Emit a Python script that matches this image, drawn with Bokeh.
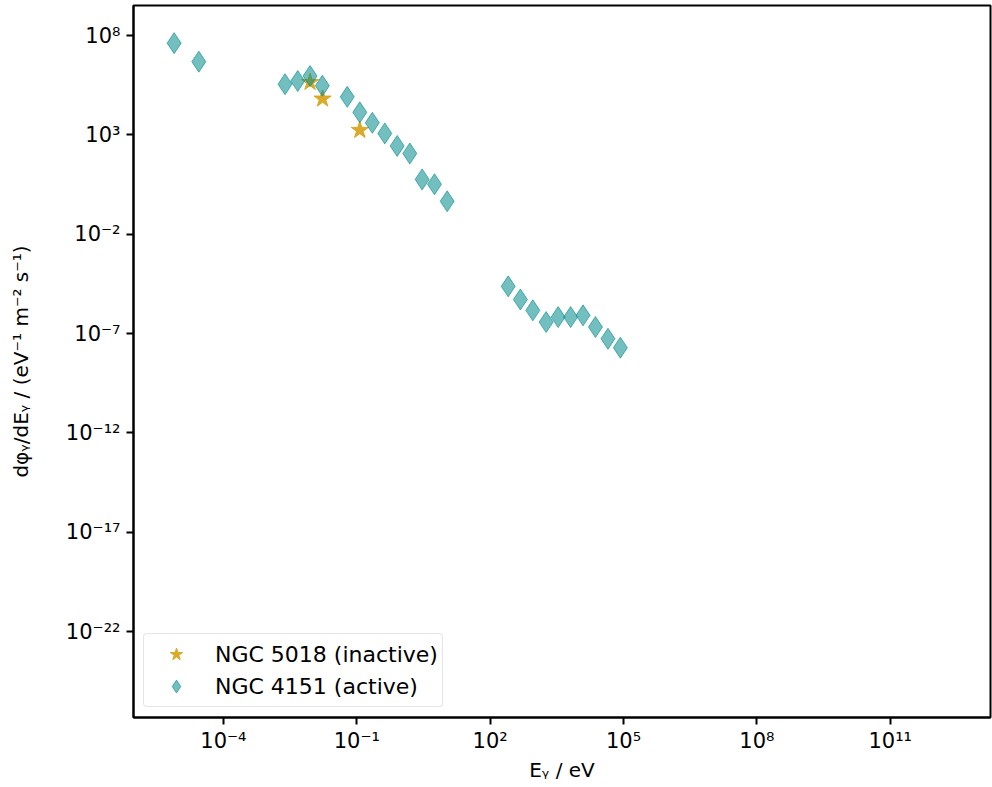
from bokeh.plotting import figure
from bokeh.models import Range1d, FixedTicker, Legend, LegendItem, ColumnDataSource
from bokeh.embed import file_html
from bokeh.resources import INLINE

# NGC 5018 (inactive) - stars
e_5018 = [8.9e-3, 1.7e-2, 0.117]
f_5018 = [4.5e5, 6.6e4, 1.74e3]

# NGC 4151 (active) - diamonds
e_4151 = [7.8e-6, 2.8e-5, 2.43e-3, 4.7e-3, 8.9e-3, 1.68e-2, 6.1e-2, 0.117, 0.224, 0.427,
          0.81, 1.56, 2.95, 5.6, 10.8, 255, 479, 912, 1820, 3390, 6460, 1.23e4, 2.34e4,
          4.47e4, 8.5e4]
f_4151 = [4.2e7, 4.9e6, 3.6e5, 5.2e5, 9.3e5, 3.0e5, 8.3e4, 1.38e4, 4.1e3, 1.2e3,
          2.8e2, 1.17e2, 5.8, 3.3, 0.46, 2.4e-5, 5.2e-6, 1.48e-6, 3.8e-7, 6.8e-7, 6.8e-7,
          8.3e-7, 2.14e-7, 5.5e-8, 1.95e-8]

x_tick_exps = [-4, -1, 2, 5, 8, 11]
y_tick_exps = [8, 3, -2, -7, -12, -17, -22]

SUP = {"-": "\u207b", "0": "\u2070", "1": "\u00b9", "2": "\u00b2", "3": "\u00b3",
       "4": "\u2074", "5": "\u2075", "6": "\u2076", "7": "\u2077", "8": "\u2078", "9": "\u2079"}


def sup_label(e):
    return "10" + "".join(SUP[c] for c in str(e))


p = figure(width=992, height=787, x_axis_type="log", y_axis_type="log",
           x_range=Range1d(9.5e-7, 1.8e13), y_range=Range1d(4.7e-27, 3.3e9),
           output_backend="svg", toolbar_location=None,
           min_border_left=133, min_border_right=2, min_border_top=5, min_border_bottom=70)

p.grid.visible = False
p.outline_line_color = "black"
p.outline_line_width = 2
p.outline_line_alpha = 1
p.background_fill_color = "white"
p.border_fill_color = "white"

xt = [10.0 ** e for e in x_tick_exps]
yt = [10.0 ** e for e in y_tick_exps]
p.xaxis.ticker = FixedTicker(ticks=xt, minor_ticks=[])
p.yaxis.ticker = FixedTicker(ticks=yt, minor_ticks=[])
p.xaxis.major_label_overrides = {t: sup_label(e) for t, e in zip(xt, x_tick_exps)}
p.yaxis.major_label_overrides = {t: sup_label(e) for t, e in zip(yt, y_tick_exps)}

for ax in (p.xaxis, p.yaxis):
    ax.axis_line_width = 2
    ax.major_tick_line_width = 2
    ax.major_tick_out = 7
    ax.major_tick_in = 0
    ax.minor_tick_out = 0
    ax.minor_tick_in = 0
    ax.major_label_text_font = "DejaVu Sans"
    ax.major_label_text_font_size = "21px"
    ax.major_label_text_color = "black"
    ax.axis_label_text_font = "DejaVu Sans"
    ax.axis_label_text_font_size = "20px"
    ax.axis_label_text_font_style = "normal"
    ax.axis_label_text_color = "black"
    ax.major_label_standoff = 6

p.xaxis.major_label_standoff = 4
p.xaxis.axis_label = "E\u1d67 / eV"
p.yaxis.axis_label = "d\u03c6\u1d67/dE\u1d67 / (eV\u207b\u00b9 m\u207b\u00b2 s\u207b\u00b9)"
p.xaxis.axis_label_standoff = 2
p.yaxis.axis_label_standoff = 30

src_s = ColumnDataSource(dict(x=e_5018, y=f_5018))
src_d = ColumnDataSource(dict(x=e_4151, y=f_4151))

r_star = p.scatter("x", "y", source=src_s, marker="star", size=18,
                   fill_color="#DAA520", line_color="#DAA520", fill_alpha=0.95, line_alpha=0.95)
r_dia = p.scatter("x", "y", source=src_d, marker="diamond", size=21,
                  fill_color="#008b8b", fill_alpha=0.55,
                  line_color="#008b8b", line_alpha=0.6, line_width=1)

legend = Legend(items=[LegendItem(label="NGC 5018 (inactive)", renderers=[r_star]),
                       LegendItem(label="NGC 4151 (active)", renderers=[r_dia])],
                location="bottom_left")
legend.margin = 10
legend.padding = 4
legend.spacing = 0
legend.label_text_font = "DejaVu Sans"
legend.label_text_font_size = "22px"
legend.label_text_color = "black"
legend.label_standoff = 11
legend.glyph_width = 56
legend.glyph_height = 32
legend.border_line_color = "#cccccc"
legend.border_line_width = 1
legend.background_fill_alpha = 0.8
try:
    legend.border_radius = 4
except Exception:
    pass
p.add_layout(legend, "center")

open("out.html", "w").write(file_html(p, INLINE))
